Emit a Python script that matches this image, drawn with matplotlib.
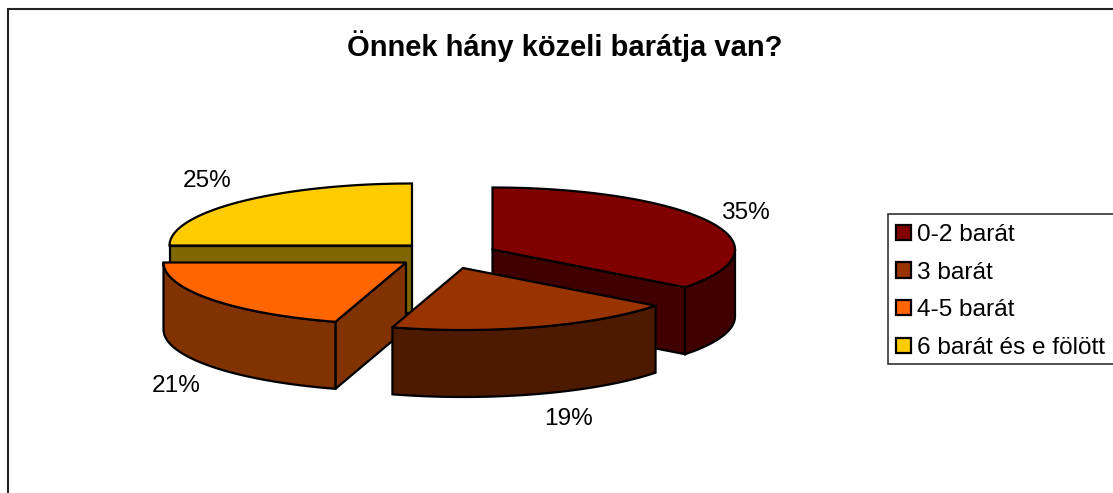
import numpy as np
import matplotlib
matplotlib.use("Agg")
import matplotlib.pyplot as plt
from matplotlib.patches import Polygon, Rectangle, Patch

plt.rcParams['font.family'] = ['Liberation Sans', 'DejaVu Sans']

title = "Önnek hány közeli barátja van?"
categories = ["0-2 barát", "3 barát", "4-5 barát", "6 barát és e fölött"]
values = [35.4, 19.3, 20.3, 25.0]
value_labels = ["35%", "19%", "21%", "25%"]
top_colors = ["#800000", "#993300", "#FF6600", "#FFCC00"]
side_colors = ["#400000", "#4D1A00", "#803300", "#806600"]

# layout, in pixels of the 1113x493 picture
centers = [(492.5, 249.5), (463, 268), (406, 262.5), (412, 245.5)]
label_pos = [(745, 213), (568, 419), (176, 386), (207, 181)]
RX, RY, DEPTH = 242.5, 62.0, 67.0
LW = 1.6

fig = plt.figure(figsize=(11.13, 4.93), dpi=100)
ax = fig.add_axes([0, 0, 1, 1])
ax.set_xlim(0, 1113)
ax.set_ylim(493, 0)
ax.axis('off')


def arc(c, a0, a1, dy=0.0):
    t = np.linspace(a0, a1, 160)
    return np.column_stack([c[0] + RX * np.sin(t), c[1] + dy - RY * np.cos(t)])


def poly(pts, color, z):
    ax.add_patch(Polygon(pts, closed=True, facecolor=color, edgecolor='black',
                         linewidth=LW, joinstyle='miter', zorder=z))


fractions = np.array(values, dtype=float) / sum(values)
edges = np.concatenate([[0], np.cumsum(fractions)]) * 2 * np.pi

# painter's order: back slices first
for rank, i in enumerate([3, 0, 2, 1]):
    c = np.array(centers[i])
    a0, a1 = edges[i], edges[i + 1]
    z = 2 + rank
    down = np.array([0, DEPTH])
    # flat cut faces, only those turned toward the viewer
    if -np.sin(a0) > 1e-6:
        p = arc(c, a0, a0)[0]
        poly([c, p, p + down, c + down], side_colors[i], z)
    if np.sin(a1) > 1e-6:
        p = arc(c, a1, a1)[0]
        poly([c, p, p + down, c + down], side_colors[i], z)
    # outer wall: only the part of the rim facing the viewer
    lo, hi = max(a0, np.pi / 2), min(a1, 3 * np.pi / 2)
    if lo < hi:
        poly(np.vstack([arc(c, lo, hi), arc(c, hi, lo, DEPTH)]), side_colors[i], z)
    # top
    poly(np.vstack([[c], arc(c, a0, a1)]), top_colors[i], z)
    ax.text(*label_pos[i], value_labels[i], fontsize=17.6, color='black',
            ha='center', va='center', zorder=10)

# chart frame, running off the right and bottom edges
ax.plot([8.3, 8.3, 1113], [493, 8.8, 8.8], color='#222222', lw=1.5,
        solid_joinstyle='miter', zorder=1)

ax.text(564.5, 46, title, fontsize=20.95, fontweight='bold', ha='center',
        va='center', color='black', zorder=10)

# legend
ax.add_patch(Rectangle((887.5, 213.5), 240, 150, facecolor='white',
                       edgecolor='#222222', linewidth=1.1, zorder=8))
handles = [Patch(facecolor=col, edgecolor='black', linewidth=LW) for col in top_colors]
leg = ax.legend(handles, categories, loc='upper left', frameon=False,
                bbox_to_anchor=(896, 224), bbox_transform=ax.transData,
                borderaxespad=0, borderpad=0.0, fontsize=17.6,
                handlelength=0.6, handleheight=0.6, handletextpad=0.26,
                labelspacing=0.64)
leg.set_zorder(9)
for t in leg.get_texts():
    t.set_color('black')

fig.savefig('out.png', dpi=100)
